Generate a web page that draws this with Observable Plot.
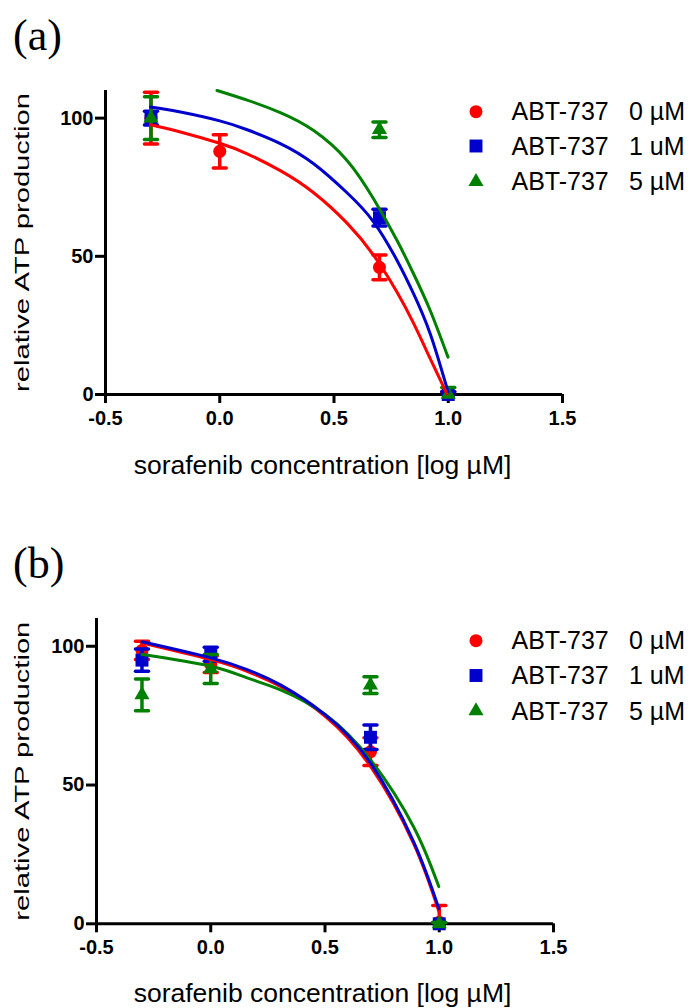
<!DOCTYPE html>
<html><head><meta charset="utf-8">
<script src="https://cdn.jsdelivr.net/npm/d3@7"></script>
<script src="https://cdn.jsdelivr.net/npm/@observablehq/plot@0.6"></script>
<style>
body{margin:0;background:#fff;}
#page{position:relative;width:690px;height:1008px;overflow:hidden;background:#fff;}
.panel{position:absolute;left:0;}
#overlay{position:absolute;left:0;top:0;pointer-events:none;}
</style></head><body><div id="page"></div>
<script>
const FONT = '"Liberation Sans", Arial, Helvetica, sans-serif';
const SERIF = '"Liberation Serif", "Times New Roman", serif';

// ---- shared categories / labels ----
const legendDrug = ["ABT-737", "ABT-737", "ABT-737"];
const legendDose = ["0 µM", "1 uM", "5 µM"];
const seriesColors = ["#ff0000", "#0000cc", "#008000"];
const seriesSymbols = ["circle", "square", "triangle"];
const panelTags = ["(a)", "(b)"];
const xTitle = "sorafenib concentration [log µM]";
const yTitle = "relative ATP production";
const xTicks = [-0.5, 0, 0.5, 1, 1.5];
const yTicks = [0, 50, 100];
const logConc = [-0.301, 0, 0.699, 1];

// ---- panel (a): measured means and error ----
const aMean0 = [100, 88, 46, 0];
const aErr0  = [9.4, 6, 4.5, 1];
const aMean1 = [100, null, 64, 0];
const aErr1  = [2.5, null, 3, 1];
const aMean5 = [100, null, 95.8, 0];
const aErr5  = [7.7, null, 2.8, 2.5];
// ---- panel (a): fitted curves ----
const aFitX0 = [-0.303, -0.172, 0, 0.12, 0.265, 0.411, 0.557, 0.673, 0.776, 0.848, 0.921, 0.994];
const aFitY0 = [97.6, 95.0, 90.9, 87.1, 81.0, 73.0, 62.0, 50.4, 37.0, 25.8, 13.0, 0.2];
const aFitX1 = [-0.303, -0.172, 0, 0.12, 0.265, 0.411, 0.557, 0.673, 0.776, 0.848, 0.921, 0.999];
const aFitY1 = [104, 102.2, 99, 95.8, 90.8, 83.5, 73, 62.5, 48.5, 36.5, 22, 1];
const aFitX5 = [-0.012, 0.12, 0.265, 0.411, 0.557, 0.673, 0.776, 0.848, 0.921, 0.999];
const aFitY5 = [110, 106.5, 102, 95.5, 84.7, 70.8, 55.7, 43.7, 30.4, 13.5];

// ---- panel (b): measured means and error ----
const bMean0 = [98.5, 93.5, 62, 0.6];
const bErr0  = [3.3, 3, 5, 6];
const bMean1 = [95, 97.1, 67.2, 0];
const bErr1  = [4, 2.5, 4.4, 0.5];
const bMean5 = [82.5, 91.8, 86, 0];
const bErr5  = [5.7, 5.2, 3, 0.5];
// ---- panel (b): fitted curves ----
const bFitX0 = [-0.301, 0, 0.159, 0.305, 0.502, 0.7, 0.888, 0.998];
const bFitY0 = [101.2, 95.2, 91, 85.5, 74.7, 56.6, 28.9, 4.5];
const bFitX1 = [-0.301, 0, 0.159, 0.305, 0.502, 0.7, 0.888, 0.998];
const bFitY1 = [101.6, 95.8, 91.6, 86.1, 75.3, 57.8, 29.5, 5.5];
const bFitX5 = [-0.301, 0, 0.159, 0.305, 0.502, 0.7, 0.888, 0.998];
const bFitY5 = [97, 92.8, 88.6, 84.3, 75.3, 59, 34.9, 13.4];

// ---- helpers ----
const capSymbol = {
  draw(ctx, size) {
    const w = Math.sqrt(size / Math.PI);
    ctx.moveTo(-w, 0); ctx.lineTo(w, 0);
  }
};
const symR = {circle: 6.5, square: 7.3, triangle: 5.6};

function rows(means, errs) {
  return logConc.map((x, i) => ({x, y: means[i], lo: means[i] == null ? null : means[i] - errs[i], hi: means[i] == null ? null : means[i] + errs[i]}))
    .filter(d => d.y != null);
}
function fit(xs, ys) { return xs.map((x, i) => ({x, y: ys[i]})); }

function panel(cfg) {
  const marks = [
    Plot.ruleX([-0.5], {strokeWidth: 3}),
    Plot.ruleY([0], {strokeWidth: 3}),
    Plot.axisX({ticks: xTicks, tickSize: 9, tickPadding: 7, strokeWidth: 3, tickFormat: d => d.toFixed(1), label: null}),
    Plot.axisY({ticks: yTicks, tickSize: 10, tickPadding: 2, strokeWidth: 3, tickFormat: d => String(d), label: null})
  ];
  cfg.series.forEach((s, k) => {
    const r = rows(s.mean, s.err);
    const caps = r.flatMap(d => [d.hi, d.lo].filter(v => v >= 0).map(v => ({x: d.x, y: v})));
    marks.push(
      Plot.ruleX(r, {x: "x", y1: d => Math.max(0, d.lo), y2: "hi", stroke: seriesColors[k], strokeWidth: 3.5}),
      Plot.dot(caps, {x: "x", y: "y", symbol: capSymbol, r: 6.5, fill: "none", stroke: seriesColors[k], strokeWidth: 3.5, strokeLinecap: "round"}),
      Plot.dot(r, {x: "x", y: "y", symbol: seriesSymbols[k], r: symR[seriesSymbols[k]], fill: seriesColors[k], stroke: "none"})
    );
  });
  cfg.order.forEach(k => {
    const s = cfg.series[k];
    marks.push(Plot.line(fit(s.fx, s.fy), {x: "x", y: "y", curve: "natural", stroke: seriesColors[k], strokeWidth: 3}));
  });
  marks.push(
    Plot.text([xTitle], {frameAnchor: "bottom", dx: cfg.xLabelDx, dy: cfg.xLabelDy, fontSize: 26.5, fontWeight: "normal", lineAnchor: "middle", textAnchor: "middle"}),
    Plot.text([yTitle], {frameAnchor: "left", rotate: -90, dx: cfg.yLabelDx, fontSize: 21, fontWeight: "normal", lineAnchor: "middle", textAnchor: "middle"})
  );
  const svg = Plot.plot({
    width: 690, height: cfg.height,
    marginTop: cfg.mt, marginBottom: cfg.mb, marginLeft: cfg.ml, marginRight: cfg.mr,
    x: {domain: [-0.5, 1.5], label: null},
    y: {domain: [0, 110], label: null},
    style: {fontFamily: FONT, fontSize: "20px", fontWeight: "bold", background: "transparent", overflow: "visible", color: "#000"},
    marks
  });
  d3.select(svg).selectAll("text").filter(function() { return this.textContent === yTitle; })
    .attr("textLength", 299).attr("lengthAdjust", "spacingAndGlyphs");
  svg.classList.add("panel");
  svg.style.top = cfg.top + "px";
  svg.style.position = "absolute";
  return svg;
}

const page = document.getElementById("page");
page.appendChild(panel({
  top: 80, height: 420, mt: 10, mb: 106, ml: 105, mr: 128, xLabelDx: -11.5, xLabelDy: 71.5, yLabelDx: -83,
  order: [2, 1, 0],
  series: [
    {mean: aMean0, err: aErr0, fx: aFitX0, fy: aFitY0},
    {mean: aMean1, err: aErr1, fx: aFitX1, fy: aFitY1},
    {mean: aMean5, err: aErr5, fx: aFitX5, fy: aFitY5}
  ]
}));
page.appendChild(panel({
  top: 600, height: 408, mt: 18, mb: 84.7, ml: 96, mr: 137, xLabelDx: -2.5, xLabelDy: 69.5, yLabelDx: -74,
  order: [0, 2, 1],
  series: [
    {mean: bMean0, err: bErr0, fx: bFitX0, fy: bFitY0},
    {mean: bMean1, err: bErr1, fx: bFitX1, fy: bFitY1},
    {mean: bMean5, err: bErr5, fx: bFitX5, fy: bFitY5}
  ]
}));

// ---- overlay: panel tags and legends ----
const ov = d3.select(page).append("svg").attr("id", "overlay").attr("width", 690).attr("height", 1008);
const tagY = [50, 578];
panelTags.forEach((t, i) => {
  ov.append("text").attr("x", 13).attr("y", tagY[i]).attr("font-family", SERIF).attr("font-size", 44).text(t);
});
const d3sym = {circle: d3.symbolCircle, square: d3.symbolSquare, triangle: d3.symbolTriangle};
const legendRows = [[111.7, 146, 181.7], [640.7, 675.5, 711]];
legendRows.forEach(ys => {
  ys.forEach((cy, k) => {
    const r = symR[seriesSymbols[k]];
    ov.append("path").attr("transform", `translate(476,${cy})`)
      .attr("d", d3.symbol(d3sym[seriesSymbols[k]], Math.PI * r * r)()).attr("fill", seriesColors[k]);
    ov.append("text").attr("x", 511.5).attr("y", cy + 8.7).attr("font-family", FONT).attr("font-size", 25).text(legendDrug[k]);
    ov.append("text").attr("x", 629).attr("y", cy + 8.7).attr("font-family", FONT).attr("font-size", 25).text(legendDose[k]);
  });
});
</script></body></html>
